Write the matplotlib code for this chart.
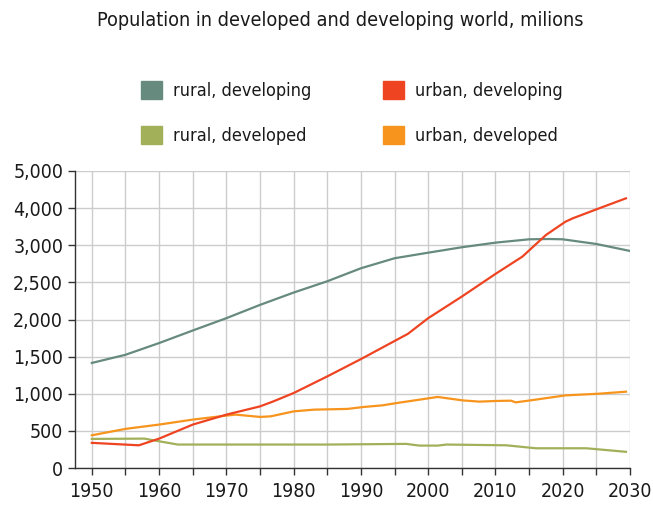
import numpy as np
import matplotlib.pyplot as plt
from matplotlib.patches import Patch

# values (millions)
rural_dev_years = [1950, 1955, 1960, 1965, 1970, 1975, 1980, 1985, 1990, 1995, 2000, 2005, 2010, 2015, 2018, 2020, 2025, 2030]
rural_dev_vals = [1415, 1525, 1683, 1852, 2018, 2197, 2363, 2515, 2690, 2825, 2900, 2973, 3070, 3160, 3168, 3160, 3034, 2923]

urban_dev_years = [1950, 1957, 1960, 1965, 1970, 1975, 1977, 1980, 1985, 1990, 1997, 2000, 2005, 2010, 2014, 2017.5, 2020.4, 2021.5, 2025.4, 2029.4]
urban_dev_vals = [339, 306, 396, 585, 719, 830, 898, 1010, 1234, 1467, 1808, 2018, 2309, 2614, 2847, 3276, 3634, 3726, 3994, 4264]

rural_ed_years = [1950, 1957.8, 1960, 1962.8, 1985, 1996.7, 1998.7, 2001.4, 2002.7, 2011.6, 2016, 2023.5, 2029.4]
rural_ed_vals = [392, 396, 360, 316, 316, 325, 302, 302, 316, 306, 266, 266, 218]

urban_ed_years = [1950, 1955, 1960, 1965, 1970, 1971.4, 1975, 1976.6, 1980, 1983, 1988, 1990.4, 1993.2, 1995.4, 2001.4, 2005.1, 2007.6, 2010.1, 2012.3, 2013, 2015.2, 2020.4, 2025.4, 2029.4]
urban_ed_vals = [441, 527, 585, 652, 706, 719, 688, 696, 763, 786, 796, 822, 844, 876, 957, 911, 894, 903, 907, 884, 911, 978, 1001, 1028]

y_ticks = [0, 500, 1000, 1500, 2000, 2500, 3000, 4000, 5000]
y_labels = ["0", "500", "1,000", "1,500", "2,000", "2,500", "3,000", "4,000", "5,000"]
x_ticks = [1950, 1960, 1970, 1980, 1990, 2000, 2010, 2020, 2030]

c_rural_dev = "#678a7e"
c_urban_dev = "#ee4422"
c_rural_ed = "#a3b05a"
c_urban_ed = "#f7941d"

plt.rcParams['font.family'] = ['DejaVu Sans']
plt.rcParams['font.stretch'] = 'condensed'


# the axis above 3,000 is compressed: 3,000 -> 5,000 takes as much room as 1,000
def fwd(v):
    v = np.asarray(v, dtype=float)
    return np.where(v <= 3000, v, 3000 + (v - 3000) / 2)

def inv(p):
    p = np.asarray(p, dtype=float)
    return np.where(p <= 3000, p, 3000 + (p - 3000) * 2)


fig = plt.figure(figsize=(6.53, 5.08), dpi=100)
ax = fig.add_axes([0.1149, 0.0787, 0.8499, 0.5847])
ax.set_yscale('function', functions=(fwd, inv))

ax.plot(rural_dev_years, rural_dev_vals, color=c_rural_dev, lw=1.6)
ax.plot(urban_ed_years, urban_ed_vals, color=c_urban_ed, lw=1.6)
ax.plot(rural_ed_years, rural_ed_vals, color=c_rural_ed, lw=1.6)
ax.plot(urban_dev_years, urban_dev_vals, color=c_urban_dev, lw=1.6)

ax.set_xlim(1947.5, 2030)
ax.set_ylim(0, 5000)
ax.set_yticks(y_ticks)
ax.set_yticklabels(y_labels)
ax.set_xticks(x_ticks)
ax.set_xticks(np.arange(1955, 2030, 10), minor=True)
ax.grid(True, which='both', color='#cccccc', lw=1)
ax.set_axisbelow(True)
ax.tick_params(axis='both', which='both', direction='out', length=5, width=1,
               color='#333333', labelsize=14, labelcolor='#1a1a1a')
ax.tick_params(axis='x', pad=5)
for s in ['top', 'right']:
    ax.spines[s].set_visible(False)
for s in ['left', 'bottom']:
    ax.spines[s].set_color('#333333')
    ax.spines[s].set_linewidth(1)

fig.text(0.521, 0.96, "Population in developed and developing world, milions",
         ha='center', va='center', fontsize=14.2, color='#1a1a1a')

handles = [Patch(color=c_rural_dev), Patch(color=c_rural_ed),
           Patch(color=c_urban_dev), Patch(color=c_urban_ed)]
labels = ["rural, developing", "rural, developed", "urban, developing", "urban, developed"]
fig.legend(handles, labels, ncol=2, loc='center', bbox_to_anchor=(0.539, 0.778),
           frameon=False, fontsize=13, handlelength=1.15, handleheight=1.15,
           handletextpad=0.6, columnspacing=4.0, labelspacing=1.45,
           labelcolor='#1a1a1a')

fig.savefig("out.png", dpi=100)
